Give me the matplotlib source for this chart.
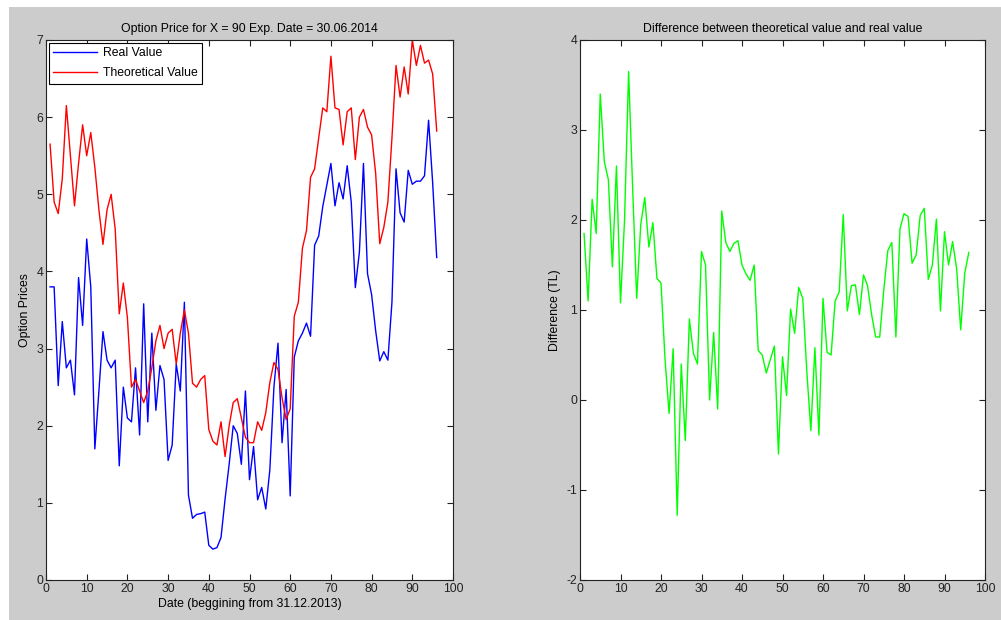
import matplotlib
matplotlib.use('Agg')
import matplotlib.pyplot as plt
from matplotlib.patches import Rectangle
import numpy as np

plt.rcParams['font.family'] = ['Liberation Sans', 'DejaVu Sans']
plt.rcParams['axes.unicode_minus'] = False

# days since 31.12.2013
days = list(range(1, 97))

real_value = [
    3.80, 3.80, 2.52, 3.35, 2.75, 2.85, 2.40, 3.92, 3.30, 4.42,
    3.80, 1.70, 2.45, 3.22, 2.85, 2.75, 2.85, 1.48, 2.50, 2.10,
    2.05, 2.75, 1.88, 3.58, 2.05, 3.20, 2.20, 2.78, 2.60, 1.55,
    1.75, 2.80, 2.45, 3.60, 1.10, 0.80, 0.85, 0.86, 0.88, 0.45,
    0.40, 0.42, 0.55, 1.05, 1.50, 2.00, 1.90, 1.50, 2.45, 1.30,
    1.73, 1.04, 1.20, 0.92, 1.43, 2.50, 3.07, 1.78, 2.47, 1.09,
    2.89, 3.10, 3.20, 3.33, 3.16, 4.34, 4.46, 4.84, 5.12, 5.40,
    4.85, 5.15, 4.94, 5.37, 4.90, 3.79, 4.25, 5.40, 3.97, 3.70,
    3.23, 2.84, 2.96, 2.85, 3.60, 5.33, 4.76, 4.64, 5.31, 5.13,
    5.17, 5.17, 5.24, 5.96, 5.15, 4.18,
]

theoretical_value = [
    5.65, 4.90, 4.75, 5.20, 6.15, 5.50, 4.85, 5.40, 5.90, 5.50,
    5.80, 5.35, 4.80, 4.35, 4.80, 5.00, 4.55, 3.45, 3.85, 3.40,
    2.50, 2.60, 2.45, 2.30, 2.45, 2.75, 3.10, 3.30, 3.00, 3.20,
    3.25, 2.80, 3.20, 3.50, 3.20, 2.55, 2.50, 2.60, 2.65, 1.95,
    1.80, 1.75, 2.05, 1.60, 2.00, 2.30, 2.35, 2.10, 1.85, 1.78,
    1.78, 2.05, 1.94, 2.17, 2.56, 2.82, 2.73, 2.36, 2.08, 2.22,
    3.42, 3.60, 4.30, 4.53, 5.22, 5.33, 5.73, 6.12, 6.07, 6.79,
    6.12, 6.10, 5.64, 6.07, 6.12, 5.45, 6.00, 6.10, 5.87, 5.77,
    5.27, 4.36, 4.57, 4.90, 5.73, 6.67, 6.26, 6.65, 6.30, 7.00,
    6.67, 6.93, 6.70, 6.74, 6.56, 5.82,
]

x_ticks = list(range(0, 101, 10))

difference = np.array(theoretical_value) - np.array(real_value)

fig = plt.figure(figsize=(10.01, 6.2), dpi=100, facecolor='white')
fig.patches.append(Rectangle((9 / 1001, 0), 1, 1 - 7 / 620, transform=fig.transFigure,
                             facecolor='#cccccc', edgecolor='none', zorder=-10))

W, H = 1001, 620
ax1 = fig.add_axes([46 / W, 1 - 580 / H, 407 / W, 540 / H])
ax2 = fig.add_axes([580 / W, 1 - 580 / H, 405 / W, 540 / H])

ax1.plot(days, real_value, color='#0000ff', lw=1, label='Real Value')
ax1.plot(days, theoretical_value, color='#ff0000', lw=1, label='Theoretical Value')
ax1.set_xlim(0, 100)
ax1.set_ylim(0, 7)
ax1.set_title('Option Price for X = 90 Exp. Date = 30.06.2014', fontsize=8.8, pad=6)
ax1.set_xlabel('Date (beggining from 31.12.2013)', fontsize=8.8, labelpad=2)
ax1.set_ylabel('Option Prices', fontsize=8.8, labelpad=4)
leg = ax1.legend(loc='upper left', fontsize=8.8, fancybox=False, framealpha=1,
                 edgecolor='black', borderaxespad=0.25, handlelength=3.6,
                 borderpad=0.35, labelspacing=0.65, handletextpad=0.5)
leg.get_frame().set_linewidth(0.8)

ax2.plot(days, difference, color='#00ff00', lw=1)
ax2.set_xlim(0, 100)
ax2.set_ylim(-2, 4)
ax2.set_title('Difference between theoretical value and real value', fontsize=8.8, pad=6)
ax2.set_ylabel('Difference (TL)', fontsize=8.8, labelpad=4)

for ax in (ax1, ax2):
    ax.set_facecolor('white')
    ax.set_xticks(x_ticks)
    ax.tick_params(direction='in', length=4, width=0.8, top=True, right=True,
                   labelsize=8.8, colors='#222222', pad=2)
    for s in ax.spines.values():
        s.set_linewidth(0.8)
        s.set_color('#222222')

fig.savefig('out.png', dpi=100, facecolor=fig.get_facecolor())
